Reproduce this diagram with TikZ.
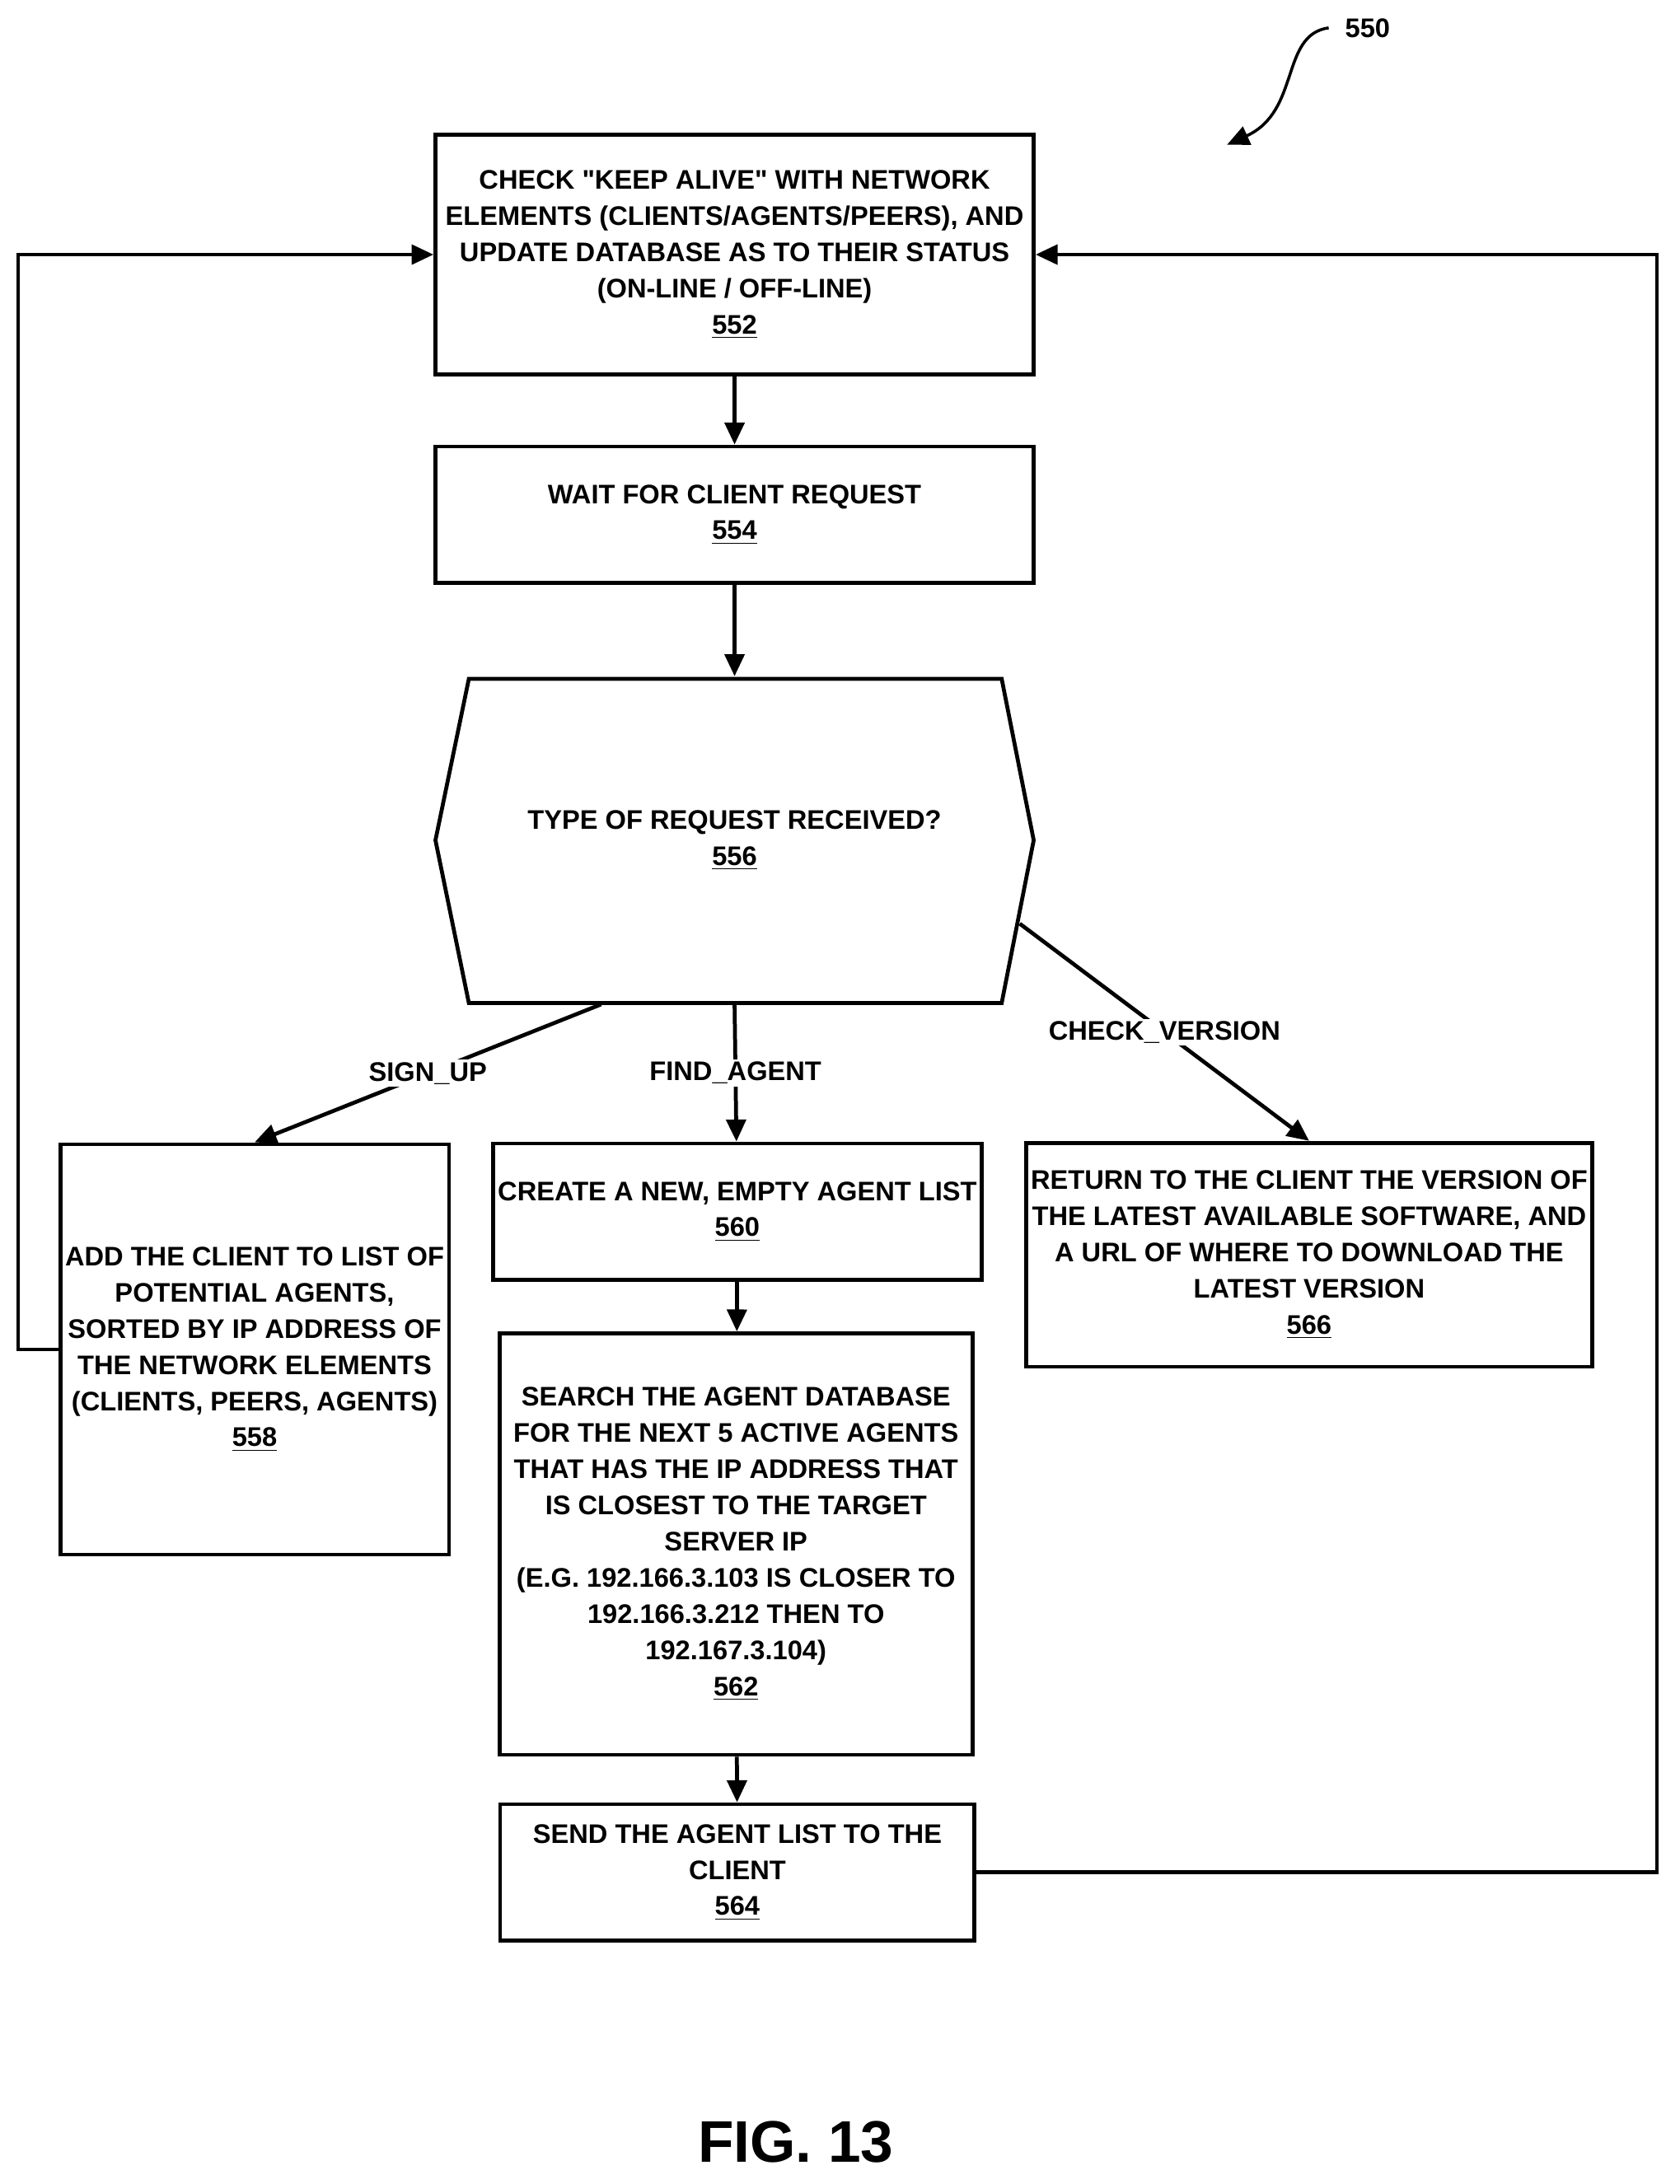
\documentclass[tikz,border=0pt]{standalone}
\usepackage{fontspec}
\setmainfont{Liberation Sans}
\usetikzlibrary{arrows.meta,positioning}

\begin{document}
\begin{tikzpicture}[x=0.02cm,y=-0.02cm,
    box/.style={draw,line width=1.6pt,align=center,font=\bfseries\fontsize{11}{14.8}\selectfont,inner sep=2pt},
    flow/.style={line width=1.6pt,-{Triangle[length=9pt,width=8pt]}},
    lbl/.style={font=\bfseries\fontsize{11}{13}\selectfont,fill=white,inner sep=1pt}]
    \useasboundingbox (0,0) rectangle (1207,1570);
    % boxes
    \node[box,minimum width=8.6cm,minimum height=3.44cm] (n552) at (528,183)
        {CHECK \textquotedbl KEEP ALIVE\textquotedbl{} WITH NETWORK\\ELEMENTS (CLIENTS/AGENTS/PEERS), AND\\UPDATE DATABASE AS TO THEIR STATUS\\(ON-LINE / OFF-LINE)\\\underline{552}};
    \node[box,minimum width=8.6cm,minimum height=1.96cm] (n554) at (528,370)
        {WAIT FOR CLIENT REQUEST\\\underline{554}};
    \node[box,draw=none,minimum width=8.6cm,minimum height=4.66cm] (n556) at (528,604)
        {TYPE OF REQUEST RECEIVED?\\\underline{556}};
    \draw[line width=1.6pt] (337,488) -- (720,488) -- (743,604) -- (720,721) -- (337,721) -- (313,604) -- cycle;
    \node[box,minimum width=5.56cm,minimum height=5.9cm] (n558) at (183,970)
        {ADD THE CLIENT TO LIST OF\\POTENTIAL AGENTS,\\SORTED BY IP ADDRESS OF\\THE NETWORK ELEMENTS\\(CLIENTS, PEERS, AGENTS)\\\underline{558}};
    \node[box,minimum width=6.86cm,minimum height=1.96cm] (n560) at (530,871)
        {CREATE A NEW, EMPTY AGENT LIST\\\underline{560}};
    \node[box,minimum width=6.8cm,minimum height=6.06cm] (n562) at (529,1110)
        {SEARCH THE AGENT DATABASE\\FOR THE NEXT 5 ACTIVE AGENTS\\THAT HAS THE IP ADDRESS THAT\\IS CLOSEST TO THE TARGET\\SERVER IP\\(E.G. 192.166.3.103 IS CLOSER TO\\192.166.3.212 THEN TO\\192.167.3.104)\\\underline{562}};
    \node[box,minimum width=6.82cm,minimum height=1.96cm] (n564) at (530,1346)
        {SEND THE AGENT LIST TO THE\\CLIENT\\\underline{564}};
    \node[box,minimum width=8.1cm,minimum height=3.22cm] (n566) at (941,902)
        {RETURN TO THE CLIENT THE VERSION OF\\THE LATEST AVAILABLE SOFTWARE, AND\\A URL OF WHERE TO DOWNLOAD THE\\LATEST VERSION\\\underline{566}};
    % connectors
    \draw[flow] (n556.south) -- node[lbl] {FIND\_AGENT} (n560);
    \draw[flow] (n552) -- (n554);
    \draw[flow] (n554) -- (n556);
    \coordinate (su) at (432,722);
    \coordinate (cv) at (733,664);
    \draw[flow] (su) -- node[lbl] {SIGN\_UP} (n558.north);
    \draw[flow] (cv) -- node[lbl] {CHECK\_VERSION} (n566.north);
    \draw[flow] (n560) -- (n562);
    \draw[flow] (n562) -- (n564);
    \draw[flow] (n558.west) -- (13,970) |- (n552.west);
    \draw[flow] (n564.east) -- (1191,1346) |- (n552.east);
    % figure label
    \node[font=\bfseries\fontsize{11}{13}\selectfont] (r550) at (983,20) {550};
    \coordinate (a550) at (882,104);
    \draw[flow,line width=1.2pt] (955,20) .. controls (920,25) and (935,80) .. (a550);
    \node[font=\bfseries\fontsize{24}{28}\selectfont] (fig) at (572,1540) {FIG. 13};
\end{tikzpicture}
\end{document}
